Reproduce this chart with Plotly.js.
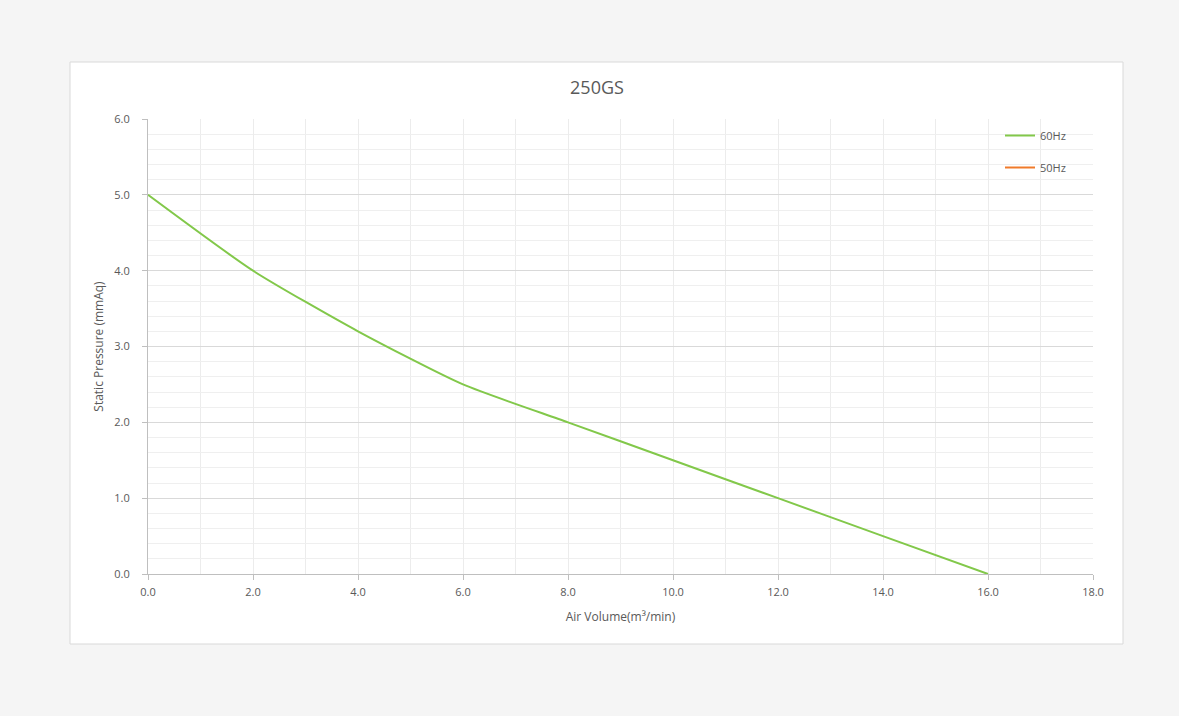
<!DOCTYPE html>
<html>
<head>
<meta charset="utf-8">
<script src="https://cdn.plot.ly/plotly-3.0.1.min.js"></script>
<style>
html,body{margin:0;padding:0;background:#f5f5f5;}
#chart{width:1179px;height:716px;}
</style>
</head>
<body>
<div id="chart"></div>
<script>
const chartTitle = "250GS";
const xAxisTitle = "Air Volume(m³/min)";
const yAxisTitle = "Static Pressure (mmAq)";
const seriesNames = ["60Hz", "50Hz"];
const airVolume60 = [0, 2, 4, 6, 8, 10, 12, 14, 16];
const pressure60 = [5.0, 4.0, 3.2, 2.5, 2.0, 1.5, 1.0, 0.5, 0.0];
const airVolume50 = [null];
const pressure50 = [null];
const xTickVals = [0, 2, 4, 6, 8, 10, 12, 14, 16, 18];
const yTickVals = [0, 1, 2, 3, 4, 5, 6];

const txt = '#595959';
const fontFam = '"Open Sans", "Noto Sans", sans-serif';

const traces = [
  {x: airVolume60, y: pressure60, name: seriesNames[0], mode: 'lines', type: 'scatter',
   line: {color: '#82c84a', width: 2, shape: 'spline', smoothing: 0.6}, legendgroup: 'a'},
  {x: airVolume50, y: pressure50, name: seriesNames[1], mode: 'lines', type: 'scatter',
   line: {color: '#f07a2a', width: 2}, legendgroup: 'b', showlegend: true}
];

const px2x = p => (p - 148) / 945;
const px2y = p => (574 - p) / 455;

const layout = {
  width: 1179, height: 716,
  paper_bgcolor: '#f5f5f5',
  plot_bgcolor: '#ffffff',
  margin: {l: 148, r: 86, t: 119, b: 142},
  font: {family: fontFam, color: txt, size: 11},
  title: {text: chartTitle, font: {size: 18, color: txt, family: fontFam}, x: 597 / 1179, xanchor: 'center', y: 1 - 88/716, yanchor: 'middle'},
  shapes: [
    {type: 'rect', xref: 'paper', yref: 'paper', x0: px2x(70), x1: px2x(1123), y0: px2y(644), y1: px2y(62),
     fillcolor: '#ffffff', line: {color: '#d9d9d9', width: 1}, layer: 'below'},
    {type: 'rect', xref: 'paper', yref: 'paper', x0: px2x(975), x1: px2x(1088), y0: px2y(182), y1: px2y(121),
     fillcolor: '#ffffff', line: {width: 0}, layer: 'between'}
  ],
  xaxis: {
    range: [0, 18], tickvals: xTickVals, ticktext: xTickVals.map(v => v.toFixed(1)),
    showgrid: true, gridcolor: '#ececec', gridwidth: 1,
    minor: {dtick: 1, showgrid: true, gridcolor: '#ececec', gridwidth: 1, ticks: ''},
    showline: true, linecolor: '#bfbfbf', linewidth: 1,
    ticks: 'outside', ticklen: 5, tickcolor: '#bfbfbf', ticklabelstandoff: 3,
    zeroline: false, tickfont: {size: 11, color: txt},
    title: {text: xAxisTitle, font: {size: 12, color: txt}, standoff: 14}
  },
  yaxis: {
    range: [0, 6], tickvals: yTickVals, ticktext: yTickVals.map(v => v.toFixed(1)),
    showgrid: true, gridcolor: '#d9d9d9', gridwidth: 1,
    minor: {dtick: 0.2, showgrid: true, gridcolor: '#efefef', gridwidth: 1, ticks: ''},
    showline: true, linecolor: '#bfbfbf', linewidth: 1,
    ticks: 'outside', ticklen: 5, tickcolor: '#bfbfbf', ticklabelstandoff: 10,
    zeroline: false, tickfont: {size: 11, color: txt},
    title: {text: yAxisTitle, font: {size: 12, color: txt}, standoff: 8}
  },
  legend: {
    x: px2x(1000), y: px2y(121), xanchor: 'left', yanchor: 'top',
    bgcolor: 'rgba(0,0,0,0)', borderwidth: 0,
    font: {size: 11, color: txt}, traceorder: 'grouped', tracegroupgap: 13,
    itemwidth: 30
  },
  showlegend: true
};

Plotly.newPlot('chart', traces, layout, {displayModeBar: false, responsive: false});
</script>
</body>
</html>
